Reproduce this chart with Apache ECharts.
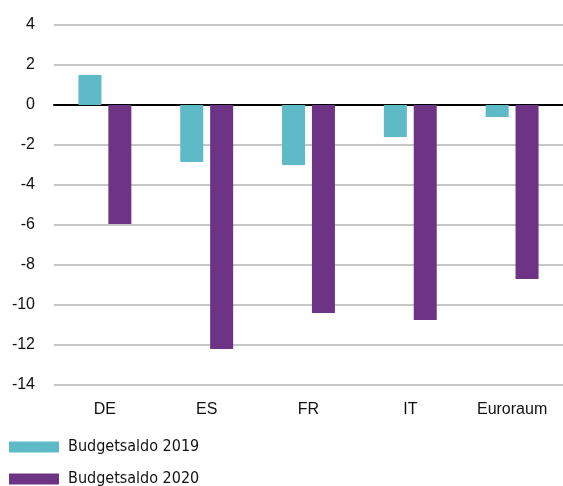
<!DOCTYPE html>
<html>
<head>
<meta charset="utf-8">
<script src="https://cdn.jsdelivr.net/npm/echarts@6/dist/echarts.min.js"></script>
<style>
    html, body { margin: 0; padding: 0; background: #fff; }
    #chart { width: 563px; height: 486px; }
</style>
</head>
<body>
<div id="chart"></div>
<script>
const categories = ['DE', 'ES', 'FR', 'IT', 'Euroraum'];
const saldo2019  = [1.5, -2.85, -3.0, -1.6, -0.6];
const saldo2020  = [-5.95, -12.2, -10.4, -10.75, -8.7];
const seriesNames = ['Budgetsaldo 2019', 'Budgetsaldo 2020'];

const chart = echarts.init(document.getElementById('chart'));

chart.setOption({
    animation: false,
    color: ['#5fbac8', '#6d3485'],
    grid: { left: 54, right: 0, top: 25, bottom: 101 },
    legend: {
        orient: 'vertical',
        left: 9,
        top: 439,
        height: 80,
        padding: 0,
        itemWidth: 50,
        itemHeight: 11,
        itemGap: 16,
        icon: 'rect',
        textStyle: {
            fontFamily: "'Liberation Sans Narrow', 'DejaVu Sans Condensed', 'Roboto', sans-serif",
            fontSize: 16,
            lineHeight: 16,
            color: '#111',
            padding: [0, 0, 0, 4],
        },
        data: seriesNames,
    },
    xAxis: [
        {
            type: 'category',
            data: categories,
            axisLine: { show: false, onZero: false },
            axisTick: { show: false },
            axisLabel: {
                fontFamily: 'Liberation Sans',
                fontSize: 16,
                color: '#111',
                margin: 17,
            },
        },
        {
            type: 'category',
            data: categories,
            position: 'bottom',
            axisLine: { show: true, onZero: true, lineStyle: { color: '#000', width: 2 } },
            axisTick: { show: false },
            axisLabel: { show: false },
        },
    ],
    yAxis: {
        type: 'value',
        min: -14,
        max: 4,
        interval: 2,
        axisLine: { show: false },
        axisTick: { show: false },
        axisLabel: {
            fontFamily: 'Liberation Sans',
            fontSize: 16,
            color: '#111',
            margin: 19,
        },
        splitLine: { lineStyle: { color: '#b4b4b4', width: 1.5 } },
    },
    series: [
        {
            name: seriesNames[0],
            type: 'bar',
            data: saldo2019,
            barWidth: 23,
            barGap: '30%',
        },
        {
            name: seriesNames[1],
            type: 'bar',
            data: saldo2020,
            barWidth: 23,
            barGap: '30%',
        },
    ],
});
</script>
</body>
</html>
